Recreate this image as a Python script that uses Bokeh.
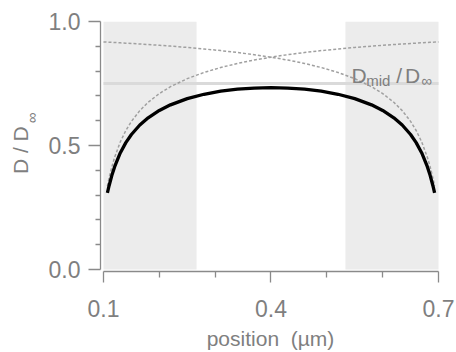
import math
from bokeh.plotting import figure
from bokeh.layouts import row
from bokeh.models import FixedTicker, PrintfTickFormatter, Label, Range1d
from bokeh.embed import file_html
from bokeh.resources import INLINE

# ---- data ----
x_solid = [0.107, 0.11, 0.115, 0.12, 0.13, 0.14, 0.15, 0.165, 0.18, 0.2, 0.22, 0.25,
           0.28, 0.31, 0.34, 0.37, 0.4, 0.43, 0.46, 0.49, 0.52, 0.55, 0.58, 0.6,
           0.62, 0.635, 0.65, 0.66, 0.67, 0.68, 0.685, 0.69, 0.693]
d_total = [0.3089, 0.3380, 0.3797, 0.4146, 0.4699, 0.5117, 0.5445, 0.5826, 0.6117,
           0.6414, 0.6640, 0.6890, 0.7066, 0.7189, 0.7270, 0.7316, 0.7331, 0.7316,
           0.7270, 0.7189, 0.7066, 0.6890, 0.6640, 0.6414, 0.6117, 0.5826, 0.5445,
           0.5117, 0.4699, 0.4146, 0.3797, 0.3380, 0.3089]

x_left_wall = [0.107, 0.11, 0.115, 0.12, 0.13, 0.14, 0.15, 0.165, 0.18, 0.2, 0.22, 0.25,
               0.28, 0.31, 0.34, 0.37, 0.4, 0.43, 0.46, 0.49, 0.52, 0.55, 0.58, 0.6,
               0.62, 0.635, 0.65, 0.66, 0.67, 0.68, 0.685, 0.69, 0.693, 0.7]
d_left_wall = [0.3369, 0.3688, 0.4145, 0.4530, 0.5140, 0.5606, 0.5974, 0.6407, 0.6743,
               0.7095, 0.7372, 0.7696, 0.7946, 0.8145, 0.8309, 0.8446, 0.8562, 0.8662,
               0.8749, 0.8826, 0.8893, 0.8954, 0.9008, 0.9041, 0.9072, 0.9093, 0.9114,
               0.9128, 0.9141, 0.9153, 0.9160, 0.9166, 0.9169, 0.9178]

x_right_wall = [0.1, 0.107, 0.11, 0.115, 0.12, 0.13, 0.14, 0.15, 0.165, 0.18, 0.2, 0.22,
                0.25, 0.28, 0.31, 0.34, 0.37, 0.4, 0.43, 0.46, 0.49, 0.52, 0.55, 0.58,
                0.6, 0.62, 0.635, 0.65, 0.66, 0.67, 0.68, 0.685, 0.69, 0.693]
d_right_wall = [0.9178, 0.9169, 0.9166, 0.9160, 0.9153, 0.9141, 0.9128, 0.9114, 0.9093,
                0.9072, 0.9041, 0.9008, 0.8954, 0.8893, 0.8826, 0.8749, 0.8662, 0.8562,
                0.8446, 0.8309, 0.8145, 0.7946, 0.7696, 0.7372, 0.7095, 0.6743, 0.6407,
                0.5974, 0.5606, 0.5140, 0.4530, 0.4145, 0.3688, 0.3369]

shade_left = [0.1, 0.5333]
shade_right = [0.2667, 0.7]
shade_bottom = [0.0, 0.0]
shade_top = [1.0, 1.0]

mid_x = [0.1, 0.7]
mid_level = 0.75

x_ticks = [0.1, 0.4, 0.7]
x_minor = [0.2, 0.3, 0.5, 0.6]
y_ticks = [0.0, 0.5, 1.0]
y_minor = [0.1, 0.2, 0.3, 0.4, 0.6, 0.7, 0.8, 0.9]

FONT = "Liberation Sans"
AX = "#8a8a8a"
TXT = "#7f7f7f"
STRIP = 44

# ---- main plot ----
p = figure(width=456 - STRIP, height=352, output_backend="svg", toolbar_location=None,
           x_range=Range1d(0.094627, 0.703582), y_range=Range1d(-0.00794, 1.0),
           min_border_left=100 - STRIP, min_border_right=16, min_border_top=21,
           min_border_bottom=77)
p.outline_line_color = None
p.grid.visible = False
p.background_fill_color = "white"
p.border_fill_color = "white"

p.quad(left=shade_left, right=shade_right, bottom=shade_bottom, top=shade_top,
       fill_color="#ececec", line_color=None)
p.line(mid_x, [mid_level] * len(mid_x), line_color="#dadada", line_width=3)
p.line(x_left_wall, d_left_wall, line_color="#a0a0a0", line_width=1.5, line_dash="3 2")
p.line(x_right_wall, d_right_wall, line_color="#a0a0a0", line_width=1.5, line_dash="3 2")
p.line(x_solid, d_total, line_color="black", line_width=3.3)

for ax in (p.xaxis[0], p.yaxis[0]):
    ax.axis_line_color = AX
    ax.axis_line_width = 1.3
    ax.major_tick_line_color = AX
    ax.minor_tick_line_color = AX
    ax.major_tick_line_width = 1.3
    ax.minor_tick_line_width = 1.3
    ax.major_tick_in = 0
    ax.minor_tick_in = 0
    ax.major_label_text_font = FONT
    ax.major_label_text_font_size = "23px"
    ax.major_label_text_color = TXT
    ax.axis_label_text_font = FONT
    ax.axis_label_text_font_size = "21px"
    ax.axis_label_text_font_style = "normal"
    ax.axis_label_text_color = TXT
    ax.formatter = PrintfTickFormatter(format="%.1f")

p.xaxis.ticker = FixedTicker(ticks=x_ticks, minor_ticks=x_minor)
p.yaxis.ticker = FixedTicker(ticks=y_ticks, minor_ticks=y_minor)
p.xaxis.bounds = (0.1, 0.7)
p.yaxis.bounds = (0.0, 1.0)
p.xaxis.major_tick_out = 11
p.xaxis.minor_tick_out = 6
p.yaxis.major_tick_out = 12
p.yaxis.minor_tick_out = 5
p.xaxis.major_label_standoff = 17
p.yaxis.major_label_standoff = 8
p.xaxis.axis_label = "position \u00a0(µm)"
p.xaxis.axis_label_standoff = 7


def lab(fig, text, x, y, size, angle=0.0):
    fig.add_layout(Label(x=x, y=y, text=text, text_font=FONT, text_font_size=size,
                         text_color=TXT, text_align="left", text_baseline="alphabetic",
                         angle=angle))


# in-plot label D_mid / D_inf
lab(p, "D", 0.5442, 0.783, "21px")
lab(p, "mid", 0.5705, 0.763, "15px")
lab(p, "/", 0.6242, 0.783, "21px")
lab(p, "D", 0.6400, 0.783, "21px")
lab(p, "∞", 0.6690, 0.763, "15px")

# ---- narrow strip holding the rotated y-axis title (data units = page pixels) ----
q = figure(width=STRIP, height=352, output_backend="svg", toolbar_location=None,
           x_range=Range1d(0, STRIP), y_range=Range1d(275, 21),
           x_axis_type=None, y_axis_type=None,
           min_border_left=0, min_border_right=0, min_border_top=21,
           min_border_bottom=77)
q.outline_line_color = None
q.grid.visible = False
q.background_fill_color = "white"
q.border_fill_color = "white"
lab(q, "D / D", 20.0, 176.0, "21px", math.pi / 2)
lab(q, "∞", 30.5, 124.5, "15px", math.pi / 2)

layout = row(q, p, spacing=0)
open("out.html", "w").write(file_html(layout, INLINE))
